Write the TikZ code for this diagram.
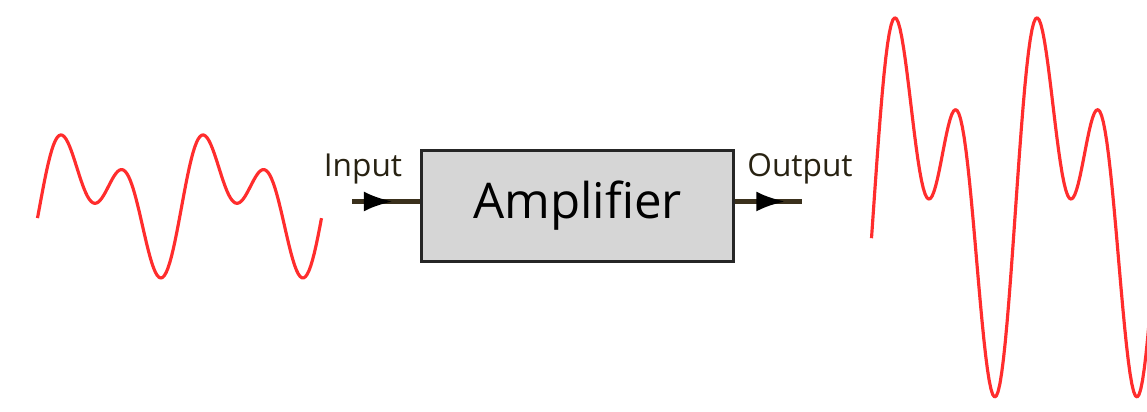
\documentclass[tikz,border=0pt]{standalone}
\usepackage{fontspec}
\setmainfont{Open Sans}
\usepackage{tikz}
\usetikzlibrary{arrows.meta, positioning, decorations.markings}

\definecolor{wirebrown}{RGB}{58,48,28}
\definecolor{labelbrown}{RGB}{40,34,18}
\definecolor{signalred}{RGB}{255,45,45}
\definecolor{boxgray}{RGB}{214,214,214}

\tikzset{
  signal/.style={signalred, line width=1.8pt, line join=round},
  ampbox/.style={draw=black!85, fill=boxgray, line width=1.7pt,
    minimum width=6.24cm, minimum height=2.22cm, inner sep=0pt,
    font=\fontsize{28}{34}\selectfont},
  lbl/.style={text=labelbrown, font=\fontsize{18}{22}\selectfont,
    inner sep=0pt, anchor=base},
  wire/.style={wirebrown, line width=2.3pt, postaction={decorate},
    decoration={markings, mark=at position #1 with
      {\arrow{Latex[length=5.8mm,width=4mm,color=black]}}}},
}

\begin{document}
\begin{tikzpicture}[declare function={sig(\t)=(cos(\t-52.9)+cos(2*\t+23.5)+0.202)/1.72;}]
    \useasboundingbox (0,0) rectangle (22.94,8.24);
    \clip (0,0) rectangle (22.94,8.24);
    % amplifier block and wire ends
    \node[ampbox] (amp) at (11.55,4.12) {Amplifier};
    \coordinate (in) at (7.04,4.21);
    \coordinate (out) at (16.04,4.21);
    % labels
    \node[lbl] (inlabel) at (7.26,4.70) {Input};
    \node[lbl] (outlabel) at (16.00,4.70) {Output};
    % wires
    \draw[wire=0.6] (in) -- (in -| amp.west);
    \draw[wire=0.75] (out -| amp.east) -- (out);
    % input and output signals
    \draw[signal] plot[domain=0.75:6.43, samples=160] (\x, {4.11+1.43*sig(126.76*(\x-1.22))});
    \draw[signal] plot[domain=17.43:23.1, samples=160] (\x, {4.09+3.79*sig(126.76*(\x-17.9))});
\end{tikzpicture}
\end{document}
